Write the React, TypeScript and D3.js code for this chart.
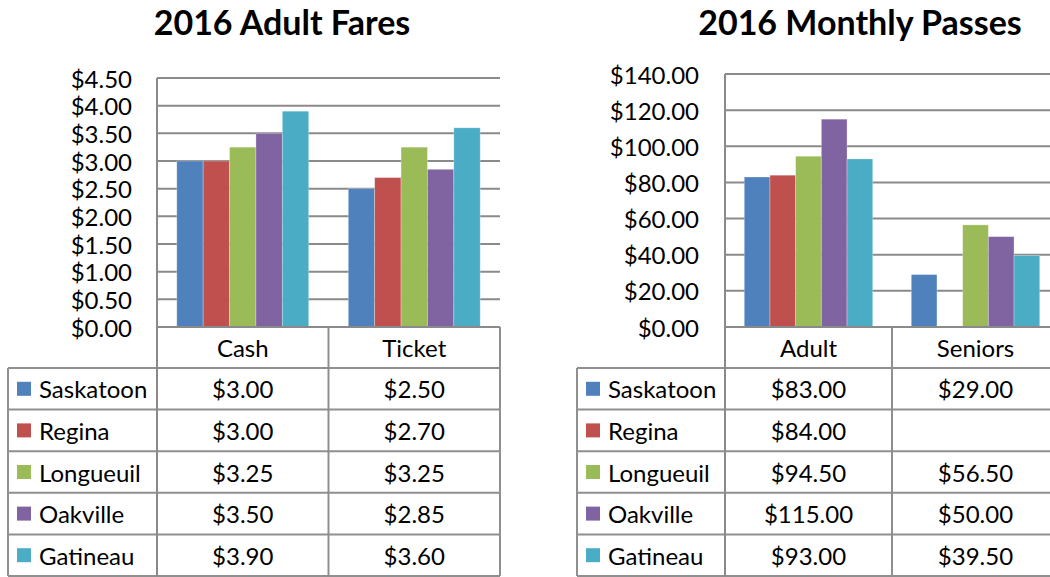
import React from "react";
import * as d3 from "d3";

const cities = ["Saskatoon", "Regina", "Longueuil", "Oakville", "Gatineau"];
const colors = ["#4f81bd", "#c0504d", "#9bbb59", "#8064a2", "#4bacc6"];

const fareCategories = ["Cash", "Ticket"];
const fareCash = [3.0, 3.0, 3.25, 3.5, 3.9];
const fareTicket = [2.5, 2.7, 3.25, 2.85, 3.6];
const fareTicks = [0, 0.5, 1, 1.5, 2, 2.5, 3, 3.5, 4, 4.5];

const passCategories = ["Adult", "Seniors"];
const passAdult = [83, 84, 94.5, 115, 93];
const passSeniors: (number | null)[] = [29, null, 56.5, 50, 39.5];
const passTicks = [0, 20, 40, 60, 80, 100, 120, 140];

const FONT = "Lato, 'Open Sans', sans-serif";
const GRID = "#8a8a8a";
const TABLE = "#8f8f8f";

type PanelProps = {
  title: string;
  titleX: number;
  categories: string[];
  series: (number | null)[][];
  ticks: number[];
  yMax: number;
  plotLeft: number;
  catWidth: number;
  yTop: number;
  yBottom: number;
  tableLeft: number;
  labelRight: number;
  rowBottom: number;
};

function Panel(p: PanelProps) {
  const plotRight = p.plotLeft + p.catWidth * p.categories.length;
  const x = d3.scaleBand<string>().domain(p.categories).range([p.plotLeft, plotRight]).paddingInner(0).paddingOuter(0);
  const xs = d3.scaleBand<string>().domain(cities).range([0, x.bandwidth()]).paddingInner(0).paddingOuter(0.75);
  const y = d3.scaleLinear().domain([0, p.yMax]).range([p.yBottom, p.yTop]);
  const fmt = (v: number) => "$" + d3.format(",.2f")(v);
  const headerBottom = p.yBottom + 41;
  const rowH = (p.rowBottom - headerBottom) / cities.length;
  const rowY = (i: number) => headerBottom + i * rowH;

  return (
    <g>
      <text x={p.titleX} y={21} textAnchor="middle" dominantBaseline="central" fontFamily={FONT} fontWeight={700} fontSize={34} fill="#000">
        {p.title}
      </text>
      {p.ticks.map((t) => (
        <g key={t}>
          {t > 0 && (
            <line x1={p.plotLeft} x2={plotRight} y1={y(t)} y2={y(t)} stroke={GRID} strokeWidth={2} />
          )}
          <text x={p.labelRight} y={y(t)} textAnchor="end" dominantBaseline="central" fontFamily={FONT} fontSize={24} fill="#000">
            {fmt(t)}
          </text>
        </g>
      ))}
      {p.categories.map((c, ci) =>
        cities.map((city, si) => {
          const v = p.series[ci][si];
          if (v == null) return null;
          return (
            <rect
              key={c + city}
              x={(x(c) as number) + (xs(city) as number)}
              y={y(v)}
              width={xs.bandwidth()}
              height={y(0) - y(v)}
              fill={colors[si]}
              stroke="#ffffff"
              strokeOpacity={0.35}
              strokeWidth={0.8}
            />
          );
        })
      )}
      {p.categories.map((c) => (
        <text key={c} x={(x(c) as number) + x.bandwidth() / 2} y={(p.yBottom + headerBottom) / 2} textAnchor="middle" dominantBaseline="central" fontFamily={FONT} fontSize={24} fill="#000">
          {c}
        </text>
      ))}
      {cities.map((city, si) => (
        <g key={city}>
          <rect x={p.tableLeft + 9} y={rowY(si) + rowH / 2 - 7} width={14} height={14} fill={colors[si]} />
          <text x={p.tableLeft + 31} y={rowY(si) + rowH / 2} dominantBaseline="central" fontFamily={FONT} fontSize={24} fill="#000">
            {city}
          </text>
          {p.categories.map((c, ci) => {
            const v = p.series[ci][si];
            return v == null ? null : (
              <text key={c} x={(x(c) as number) + x.bandwidth() / 2} y={rowY(si) + rowH / 2} textAnchor="middle" dominantBaseline="central" fontFamily={FONT} fontSize={24} fill="#000">
                {fmt(v)}
              </text>
            );
          })}
        </g>
      ))}
      {d3.range(cities.length + 1).map((i) => (
        <line key={"h" + i} x1={p.tableLeft} x2={plotRight} y1={rowY(i)} y2={rowY(i)} stroke={TABLE} strokeWidth={2} />
      ))}
      <line x1={p.tableLeft} x2={p.tableLeft} y1={headerBottom} y2={p.rowBottom} stroke={TABLE} strokeWidth={2} />
      {p.categories.map((c) => (
        <line key={"v" + c} x1={(x(c) as number) + x.bandwidth()} x2={(x(c) as number) + x.bandwidth()} y1={p.yBottom} y2={p.rowBottom} stroke={TABLE} strokeWidth={2} />
      ))}
      <line x1={p.plotLeft} x2={plotRight} y1={y(0)} y2={y(0)} stroke={GRID} strokeWidth={2} />
      <line x1={p.plotLeft} x2={p.plotLeft} y1={p.yTop} y2={p.rowBottom} stroke={GRID} strokeWidth={2} />
    </g>
  );
}

export default function App() {
  return (
    <svg width={1050} height={577} style={{ position: "absolute", left: 0, top: 0, background: "#fff" }}>
      <rect width={1050} height={577} fill="#fff" />
      <Panel
        title="2016 Adult Fares"
        titleX={282}
        categories={fareCategories}
        series={[fareCash, fareTicket]}
        ticks={fareTicks}
        yMax={4.5}
        plotLeft={157}
        catWidth={171.5}
        yTop={78}
        yBottom={327}
        tableLeft={8}
        labelRight={132}
        rowBottom={576}
      />
      <Panel
        title="2016 Monthly Passes"
        titleX={860}
        categories={passCategories}
        series={[passAdult, passSeniors]}
        ticks={passTicks}
        yMax={140}
        plotLeft={725}
        catWidth={167}
        yTop={74}
        yBottom={327}
        tableLeft={577}
        labelRight={699}
        rowBottom={576}
      />
    </svg>
  );
}
